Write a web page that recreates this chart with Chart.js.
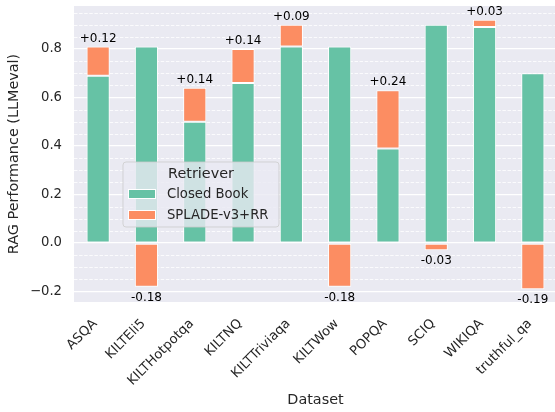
<!DOCTYPE html>
<html>
<head>
<meta charset="utf-8">
<script src="https://cdn.jsdelivr.net/npm/chart.js@4.4.1/dist/chart.umd.min.js"></script>
<style>
  html, body { margin: 0; padding: 0; background: #ffffff; overflow: hidden; width: 555px; height: 412px; }
  #wrap { position: absolute; left: 0; top: 0; width: 558px; height: 412px; }
</style>
</head>
<body>
<div id="wrap"><canvas id="c" width="558" height="412"></canvas></div>
<script>
const categories = ['ASQA', 'KILTEli5', 'KILTHotpotqa', 'KILTNQ', 'KILTTriviaqa', 'KILTWow', 'POPQA', 'SCIQ', 'WIKIQA', 'truthful_qa'];
const closedBook = [0.69, 0.81, 0.50, 0.66, 0.81, 0.81, 0.39, 0.90, 0.89, 0.70];
const spladeDelta = [0.12, -0.18, 0.14, 0.14, 0.09, -0.18, 0.24, -0.03, 0.03, -0.19];
const seriesNames = ['Closed Book', 'SPLADE-v3+RR'];
const yTicks = [-0.2, 0.0, 0.2, 0.4, 0.6, 0.8];
const yTickLabels = ['\u22120.2', '0.0', '0.2', '0.4', '0.6', '0.8'];
const yMin = -0.243, yMax = 0.977;

const GREEN = '#66c2a5', ORANGE = '#fc8d62', TXT = '#262626';
const FONT = "'DejaVu Sans', sans-serif";

const minorGrid = {
  id: 'minorGrid',
  beforeDatasetsDraw(chart) {
    const {ctx, chartArea} = chart;
    const y = chart.scales.y;
    ctx.save();
    ctx.strokeStyle = '#ffffff';
    ctx.lineWidth = 0.8;
    ctx.setLineDash([3.5, 1.6]);
    for (let k = -4; k <= 19; k++) {
      if (k % 4 === 0) continue;
      const v = k * 0.05;
      if (v < yMin || v > yMax) continue;
      const py = Math.round(y.getPixelForValue(v)) + 0.5;
      ctx.beginPath();
      ctx.moveTo(chartArea.left, py);
      ctx.lineTo(chartArea.right, py);
      ctx.stroke();
    }
    ctx.restore();
  }
};

const annotations = {
  id: 'annotations',
  afterDatasetsDraw(chart) {
    const {ctx} = chart;
    const x = chart.scales.x, y = chart.scales.y;
    ctx.save();
    ctx.font = '12px ' + FONT;
    ctx.fillStyle = '#000000';
    ctx.textAlign = 'center';
    ctx.textBaseline = 'alphabetic';
    spladeDelta.forEach((d, i) => {
      const px = x.getPixelForValue(i);
      if (d >= 0) {
        const top = y.getPixelForValue(closedBook[i] + d);
        ctx.fillText('+' + d.toFixed(2), px, top - 5);
      } else {
        const bot = y.getPixelForValue(d);
        ctx.fillText(d.toFixed(2), px, bot + 14);
      }
    });
    ctx.restore();
  }
};

const legendBox = {
  id: 'legendBox',
  afterDraw(chart) {
    const {ctx} = chart;
    ctx.save();
    const bx = 123, by = 162, bw = 156, bh = 65, r = 3;
    ctx.beginPath();
    ctx.moveTo(bx + r, by);
    ctx.arcTo(bx + bw, by, bx + bw, by + bh, r);
    ctx.arcTo(bx + bw, by + bh, bx, by + bh, r);
    ctx.arcTo(bx, by + bh, bx, by, r);
    ctx.arcTo(bx, by, bx + bw, by, r);
    ctx.closePath();
    ctx.fillStyle = 'rgba(234,234,242,0.8)';
    ctx.fill();
    ctx.strokeStyle = 'rgba(204,204,204,0.8)';
    ctx.lineWidth = 1;
    ctx.stroke();

    ctx.fillStyle = TXT;
    ctx.textBaseline = 'middle';
    ctx.textAlign = 'center';
    ctx.font = '14.4px ' + FONT;
    ctx.fillText('Retriever', 201, 174);
    ctx.textAlign = 'left';
    ctx.font = '13.2px ' + FONT;
    const cols = [GREEN, ORANGE];
    [194, 215].forEach((cy, i) => {
      ctx.fillStyle = cols[i];
      ctx.fillRect(128, cy - 5, 28, 10);
      ctx.strokeStyle = '#ffffff';
      ctx.lineWidth = 1;
      ctx.strokeRect(128.5, cy - 4.5, 27, 9);
      ctx.fillStyle = TXT;
      ctx.fillText(seriesNames[i], 167, cy + 1);
    });
    ctx.restore();
  }
};

const bgPlugin = {
  id: 'bgPlugin',
  beforeDraw(chart) {
    const {ctx, chartArea} = chart;
    ctx.save();
    ctx.fillStyle = '#eaeaf2';
    ctx.fillRect(chartArea.left, chartArea.top, chartArea.right - chartArea.left, chartArea.bottom - chartArea.top);
    ctx.restore();
  }
};

new Chart(document.getElementById('c'), {
  type: 'bar',
  data: {
    labels: categories,
    datasets: [
      { label: seriesNames[0], data: closedBook, backgroundColor: GREEN, borderColor: '#ffffff', borderWidth: 1, borderSkipped: false },
      { label: seriesNames[1], data: spladeDelta, backgroundColor: ORANGE, borderColor: '#ffffff', borderWidth: 1, borderSkipped: false }
    ]
  },
  options: {
    responsive: false,
    animation: false,
    devicePixelRatio: 1,
    layout: { padding: { left: 0, right: 1, top: 6, bottom: 0 } },
    datasets: { bar: { barPercentage: 0.48, categoryPercentage: 1.0 } },
    plugins: { legend: { display: false }, tooltip: { enabled: false } },
    scales: {
      x: {
        stacked: true,
        offset: true,
        grid: { display: false },
        border: { display: false },
        afterFit: s => { s.height = 110; s.paddingLeft = 0; s.paddingRight = 0; },
        ticks: {
          minRotation: 45, maxRotation: 45, autoSkip: false,
          color: TXT, font: { family: FONT, size: 13.2 },
          padding: 6, labelOffset: -3
        },
        title: { display: true, text: 'Dataset', color: TXT, font: { family: FONT, size: 14.4 }, padding: { top: 0, bottom: 3 } }
      },
      y: {
        stacked: true,
        min: yMin, max: yMax,
        afterBuildTicks: s => { s.ticks = yTicks.map(v => ({ value: v })); },
        afterFit: s => { s.width = 74; s.paddingTop = 0; s.paddingBottom = 0; },
        grid: { color: '#ffffff', lineWidth: 1.2, drawTicks: false },
        border: { display: false },
        ticks: {
          color: TXT, font: { family: FONT, size: 13.2 }, padding: 12,
          callback: (v, i) => yTickLabels[i]
        },
        title: { display: true, text: 'RAG Performance (LLMeval)', color: TXT, font: { family: FONT, size: 14.4 }, padding: { top: 6, bottom: 0 } }
      }
    }
  },
  plugins: [bgPlugin, minorGrid, annotations, legendBox]
});
</script>
</body>
</html>
